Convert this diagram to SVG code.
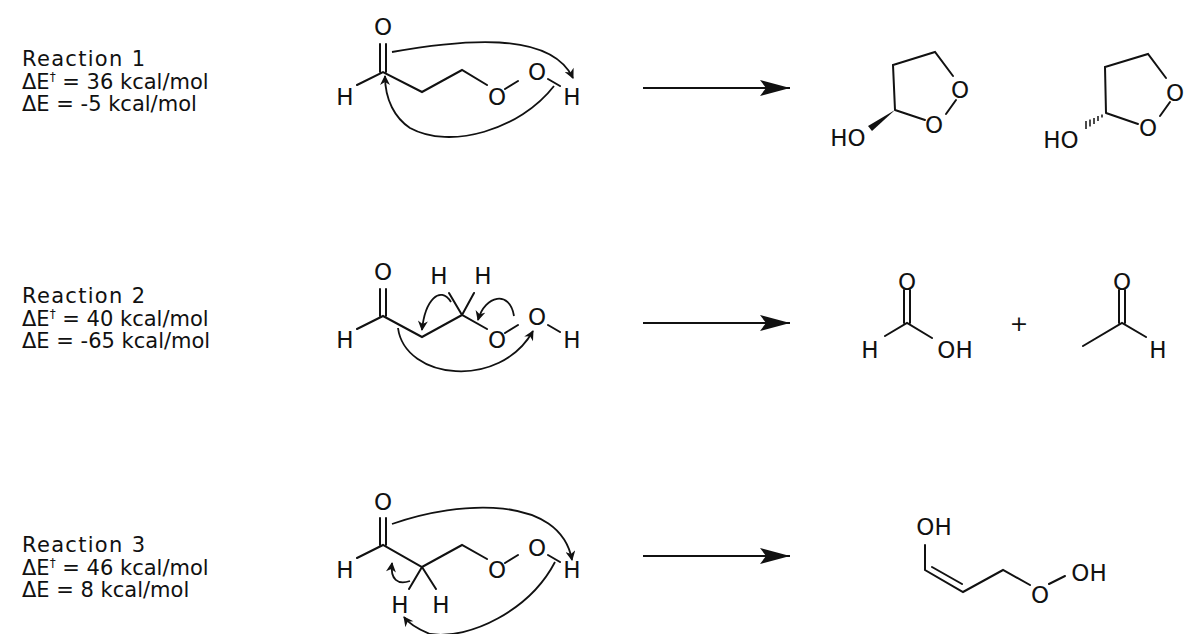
<svg xmlns="http://www.w3.org/2000/svg" width="1200" height="634" viewBox="0 0 1200 634">
<defs>
<marker id="ah" viewBox="0 0 10 10" refX="9" refY="5" markerWidth="11" markerHeight="10" orient="auto" markerUnits="userSpaceOnUse"><path d="M0,0 L10,5 L0,10 L3,5 Z" fill="#111"/></marker>
<marker id="big" viewBox="0 0 10 10" refX="10" refY="5" markerWidth="30" markerHeight="16" orient="auto" markerUnits="userSpaceOnUse" preserveAspectRatio="none"><path d="M0,0 L10,5 L0,10 L2,5 Z" fill="#111"/></marker>
<style>
text{font-family:"DejaVu Sans","Liberation Sans",sans-serif;fill:#111}
.lab{font-size:21px}
.at{font-size:23px;text-anchor:middle}
.b{stroke:#111;stroke-width:2;fill:none;stroke-linecap:round}
.c{stroke:#111;stroke-width:1.8;fill:none;marker-end:url(#ah)}
.r{stroke:#111;stroke-width:2;marker-end:url(#big)}
</style>
</defs>
<g id="labels">
<text class="lab" x="22" y="66" textLength="123">Reaction 1</text><text class="lab" x="22" y="89">ΔE<tspan font-size="12" dy="-8">†</tspan><tspan dy="8"> = 36 kcal/mol</tspan></text><text class="lab" x="22" y="111">ΔE = -5 kcal/mol</text>
<text class="lab" x="22" y="303" textLength="123">Reaction 2</text><text class="lab" x="22" y="326">ΔE<tspan font-size="12" dy="-8">†</tspan><tspan dy="8"> = 40 kcal/mol</tspan></text><text class="lab" x="22" y="348">ΔE = -65 kcal/mol</text>
<text class="lab" x="22" y="552" textLength="123">Reaction 3</text><text class="lab" x="22" y="575">ΔE<tspan font-size="12" dy="-8">†</tspan><tspan dy="8"> = 46 kcal/mol</tspan></text><text class="lab" x="22" y="597">ΔE = 8 kcal/mol</text>
</g>
<g id="reactant1">
<text class="at" x="383" y="35">O</text><text class="at" x="345" y="105">H</text><text class="at" x="497" y="105">O</text><text class="at" x="537" y="80">O</text><text class="at" x="572" y="105">H</text>
<path class="b" d="M380,44V72M386,44V72M357,85L383,72L422,92L462,70L487,85M505,89L518,81M548,79L560,86"/>
</g>
<g id="reactant2">
<text class="at" x="383" y="280">O</text><text class="at" x="345" y="348">H</text><text class="at" x="439" y="284">H</text><text class="at" x="483" y="284">H</text><text class="at" x="497" y="348">O</text><text class="at" x="537" y="325">O</text><text class="at" x="572" y="348">H</text>
<path class="b" d="M380,289V316M386,289V316M357,329L383,316L422,337L462,315L487,329M462,315L449,293M462,315L474,293M505,333L518,325M548,325L560,332"/>
</g>
<g id="reactant3">
<text class="at" x="383" y="510">O</text><text class="at" x="345" y="578">H</text><text class="at" x="497" y="578">O</text><text class="at" x="537" y="556">O</text><text class="at" x="572" y="578">H</text><text class="at" x="400" y="613">H</text><text class="at" x="441" y="613">H</text>
<path class="b" d="M380,518V545M386,518V545M357,558L383,545L422,567L462,545L487,559M422,567L409,589M422,567L436,589M505,563L518,555M548,555L560,562"/>
</g>
<g id="products1">
<path class="b" d="M895,110L893,65L935,52L953,76M956,100L946,114M925,120L895,110"/>
<path d="M895,110L868,126L872,131Z" fill="#111"/>
<text class="at" x="960" y="98">O</text><text class="at" x="934" y="133">O</text><text class="at" x="848" y="146">HO</text>
<path class="b" d="M1106,113L1105,67L1148,54L1166,78M1170,102L1160,116M1138,124L1106,113"/>
<path stroke="#111" stroke-width="1.5" d="M1102,114.5v3M1098,116v5M1094,118v6M1090,119.5v7M1086,121v8"/>
<text class="at" x="1175" y="101">O</text><text class="at" x="1148" y="136">O</text><text class="at" x="1061" y="148">HO</text>
</g>
<g id="products2">
<path class="b" d="M904,290V323M910,290V323M885,336L907,323L932,338M1119,290V323M1125,290V323M1083,346L1122,323L1146,337"/>
<text class="at" x="907" y="290">O</text><text class="at" x="870" y="358">H</text><text class="at" x="955" y="358">OH</text><text class="at" x="1019" y="331" style="font-size:22px">+</text>
<text class="at" x="1122" y="290">O</text><text class="at" x="1158" y="358">H</text>
</g>
<g id="product3">
<path class="b" d="M925,545V570L963,592L1003,570L1030,585M932,567L962,584M1049,584L1065,576"/>
<text class="at" x="934" y="535">OH</text><text class="at" x="1040" y="603">O</text><text class="at" x="1089" y="581">OH</text>
</g>
<g id="connectors">
<path class="r" d="M643,88H790"/><path class="r" d="M643,323H790"/><path class="r" d="M643,556H790"/>
<path class="c" d="M392,52C460,40 550,30 573,78"/>
<path class="c" d="M554,86C520,130 450,150 410,128C395,118 385,100 385,76"/>
<path class="c" d="M451,302C440,285 425,300 422,330"/>
<path class="c" d="M514,316C510,290 485,295 478,320"/>
<path class="c" d="M398,328C405,380 500,390 533,331"/>
<path class="c" d="M392,524C460,500 560,495 572,560"/>
<path class="c" d="M555,562C530,610 470,640 430,634C420,630 410,625 404,617"/>
<path class="c" d="M410,581C398,585 390,580 392,563"/>
</g>
</svg>
